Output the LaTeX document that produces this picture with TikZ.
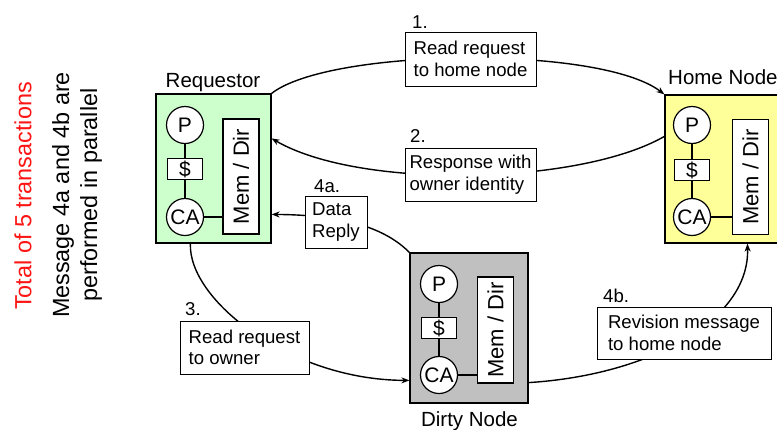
\documentclass[tikz,border=0pt]{standalone}
\usepackage{fontspec}
\setmainfont{Liberation Sans}
\usetikzlibrary{arrows.meta,calc}

\definecolor{reqfill}{RGB}{204,255,204}
\definecolor{homefill}{RGB}{255,255,153}
\definecolor{dirtyfill}{RGB}{192,192,192}
\definecolor{notered}{RGB}{255,20,20}

\newcommand\fsize[2]{\fontsize{#1}{#2}\selectfont}

\begin{document}
\begin{tikzpicture}[x=1pt,y=-1pt,
  nodebox/.style={draw=black, line width=1.2pt, inner sep=0pt},
  proc/.style={circle, draw, fill=white, line width=1.2pt, minimum size=37pt, inner sep=0pt, font=\fsize{21}{24}},
  cachebox/.style={draw, fill=white, line width=1.2pt, minimum width=35pt, minimum height=21pt, inner sep=0pt, font=\fsize{21}{24}},
  membox/.style={draw, fill=white, line width=1.2pt, minimum width=36pt, inner sep=0pt, font=\fsize{22}{24}},
  msg/.style={draw, fill=white, line width=1pt, align=left, inner sep=0pt, font=\fsize{18.6}{21.5}},
  num/.style={anchor=base west, inner sep=0pt, font=\fsize{18.6}{21.5}},
  title/.style={inner sep=0pt, font=\fsize{20.5}{24}},
  wire/.style={line width=1.2pt},
  flow/.style={line width=1.4pt, -{Stealth[length=8pt,width=6pt]}},
  side/.style={rotate=90, inner sep=0pt, font=\fsize{23.4}{28}},
]
\useasboundingbox (0,0) rectangle (777,429);

% side notes
\node[side, text=notered] (total) at (23,196) {Total of 5 transactions};
\node[side, align=center] (parallel) at (77,195) {Message 4a and 4b are\\performed in parallel};

% the three nodes
\node[nodebox, fill=reqfill, minimum width=115pt, minimum height=149pt] (req) at (213.5,168.5) {};
\node[nodebox, fill=homefill, minimum width=118pt, minimum height=148pt] (home) at (724,169) {};
\node[nodebox, fill=dirtyfill, minimum width=118pt, minimum height=150pt] (dirty) at (469,328) {};

\node[title, anchor=base] (reqtitle) at (213,87) {Requestor};
\node[title, anchor=base west] (hometitle) at (668,84) {Home Node};
\node[title, anchor=base] (dirtytitle) at (469.5,426) {Dirty Node};

% requestor internals
\node[proc] (reqp) at (185,125) {P};
\node[cachebox] (reqc) at (185,169) {\$};
\node[proc] (reqca) at (185,217) {CA};
\node[membox, minimum height=115pt] (reqm) at (241,176.5) {\rotatebox{90}{Mem / Dir}};
\draw[wire] (reqp) -- (reqc) (reqc) -- (reqca);
\draw[wire] (reqca.east) -- (reqca.east -| reqm.west);

% home internals
\node[proc] (homep) at (692,125) {P};
\node[cachebox] (homec) at (692,170) {\$};
\node[proc] (homeca) at (692,217) {CA};
\node[membox, minimum height=115pt] (homem) at (750.5,177) {\rotatebox{90}{Mem / Dir}};
\draw[wire] (homep) -- (homec) (homec) -- (homeca);
\draw[wire] (homeca.east) -- (homeca.east -| homem.west);

% dirty node internals
\node[proc] (dirtyp) at (439,284) {P};
\node[cachebox] (dirtyc) at (439,328) {\$};
\node[proc] (dirtyca) at (439,375) {CA};
\node[membox, minimum height=106pt] (dirtym) at (495.5,330) {\rotatebox{90}{Mem / Dir}};
\draw[wire] (dirtyp) -- (dirtyc) (dirtyc) -- (dirtyca);
\draw[wire] (dirtyca.east) -- (dirtyca.east -| dirtym.west);

% transactions
\draw[flow] (req.north east) .. controls (330,48) and (600,45) .. (home.north west);
\draw[flow] ($(home.north west)+(0,42)$) .. controls (580,185) and (360,190) .. ($(req.north east)+(0,45)$);
\draw[flow] ($(req.south west)+(35,0)$) .. controls (188,300) and (290,380) .. ($(dirty.north west)+(0,128)$);
\draw[flow] (dirty.north west) .. controls (385,228) and (345,215) .. ($(req.north east)+(0,121)$);
\draw[flow] ($(dirty.south east)+(0,-21)$) .. controls (650,375) and (750,320) .. ($(home.south west)+(83,0)$);

% transaction labels
\node[msg, minimum width=131pt, minimum height=54pt] (m1) at (470.5,59) {Read request\\to home node};
\node[msg, minimum width=131pt, minimum height=53pt] (m2) at (470.5,174.5) {Response with\\owner identity};
\node[msg, minimum width=62pt, minimum height=52pt] (m4a) at (336,222) {Data\\Reply};
\node[msg, minimum width=129pt, minimum height=53pt] (m3) at (244.5,347.5) {Read request\\to owner};
\node[msg, minimum width=174pt, minimum height=52pt] (m4b) at (684,333) {Revision message\\to home node};

\node[num] (n1) at (412,28) {1.};
\node[num] (n2) at (410,142) {2.};
\node[num] (n4a) at (314,192) {4a.};
\node[num] (n3) at (185,315) {3.};
\node[num] (n4b) at (603,302) {4b.};
\end{tikzpicture}
\end{document}
